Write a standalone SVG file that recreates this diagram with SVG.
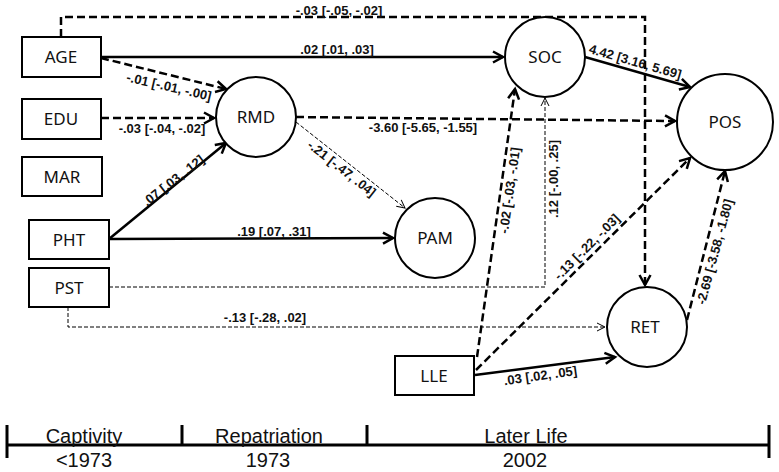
<svg xmlns="http://www.w3.org/2000/svg" width="779" height="472" viewBox="0 0 779 472">
<style>
.box{fill:#fff;stroke:#000;stroke-width:2}
.nt{font-family:"Noto Sans","DejaVu Sans",sans-serif;font-size:17px;fill:#111;text-anchor:middle}
.s{stroke:#000;stroke-width:2.5;fill:none}
.d{stroke:#000;stroke-width:2.5;fill:none;stroke-dasharray:8 4}
.t{stroke:#000;stroke-width:1;fill:none;stroke-dasharray:4 2}
.lb{font-family:"Liberation Sans",Arial,sans-serif;font-size:13px;font-weight:bold;fill:#111;text-anchor:middle}
.tl{font-family:"Liberation Sans",Arial,sans-serif;font-size:20px;fill:#111;text-anchor:middle}
.tk{stroke:#000;stroke-width:3;fill:none}
</style>
<defs>
<marker id="ah" markerUnits="userSpaceOnUse" markerWidth="16" markerHeight="16" refX="12" refY="7" orient="auto">
<path d="M2,1.5 L12,7 L2,12.5" fill="none" stroke="#000" stroke-width="2.5" stroke-dasharray="none"/>
</marker>
<marker id="at" markerUnits="userSpaceOnUse" markerWidth="12" markerHeight="12" refX="9" refY="5" orient="auto">
<path d="M1,1 L9,5 L1,9" fill="none" stroke="#000" stroke-width="1" stroke-dasharray="none"/>
</marker>
</defs>
<rect width="779" height="472" fill="#fff"/>
<g id="connectors">
<path class="d" d="M61,37 V17 H645 V285" marker-end="url(#ah)"/>
<path class="s" d="M101,57 H503" marker-end="url(#ah)"/>
<path class="d" d="M101,58 L226,89" marker-end="url(#ah)"/>
<path class="d" d="M101,118 L214,118" marker-end="url(#ah)"/>
<path class="s" d="M109,239 L226,143" marker-end="url(#ah)"/>
<path class="s" d="M109,239 L393,238" marker-end="url(#ah)"/>
<path class="t" d="M296,122 L405,208" marker-end="url(#at)"/>
<path class="d" d="M296,117 L675,121" marker-end="url(#ah)"/>
<path class="s" d="M585,57 L690,87" marker-end="url(#ah)"/>
<path class="t" d="M109,287 H545 V98" marker-end="url(#at)"/>
<path class="t" d="M68,307 V327 H605" marker-end="url(#at)"/>
<path class="d" d="M477,357 L515,89" marker-end="url(#ah)"/>
<path class="d" d="M476,370 L690,158" marker-end="url(#ah)"/>
<path class="s" d="M475,375 L615,357" marker-end="url(#ah)"/>
<path class="d" d="M687,320 L725,171" marker-end="url(#ah)"/>
<text class="lb" x="339" y="15">-.03 [-.05, -.02]</text>
<text class="lb" x="337" y="54">.02 [.01, .03]</text>
<text class="lb" transform="translate(168,91) rotate(13)">-.01 [-.01, -.00]</text>
<text class="lb" x="162" y="133">-.03 [-.04, -.02]</text>
<text class="lb" transform="translate(176,184) rotate(-38)">.07 [.03, .12]</text>
<text class="lb" x="274" y="236">.19 [.07, .31]</text>
<text class="lb" transform="translate(339,172) rotate(38)">-.21 [-.47, .04]</text>
<text class="lb" x="423" y="132">-3.60 [-5.65, -1.55]</text>
<text class="lb" transform="translate(634,66) rotate(16)">4.42 [3.16, 5.69]</text>
<text class="lb" transform="translate(558,179) rotate(-90)">.12 [-.00, .25]</text>
<text class="lb" x="265" y="322">-.13 [-.28, .02]</text>
<text class="lb" transform="translate(514,191) rotate(-82)">-.02 [-.03, -.01]</text>
<text class="lb" transform="translate(590,250) rotate(-45)">-.13 [-.22, -.03]</text>
<text class="lb" transform="translate(541,380) rotate(-8)">.03 [.02, .05]</text>
<text class="lb" transform="translate(719,253) rotate(-75)">-2.69 [-3.58, -1.80]</text>
</g>
<g id="AGE"><rect class="box" x="22" y="37" width="79" height="40"/><text class="nt" x="61" y="63">AGE</text></g>
<g id="EDU"><rect class="box" x="22" y="99" width="79" height="40"/><text class="nt" x="61" y="125">EDU</text></g>
<g id="MAR"><rect class="box" x="22" y="157" width="80" height="39"/><text class="nt" x="62" y="183">MAR</text></g>
<g id="PHT"><rect class="box" x="29" y="220" width="80" height="39"/><text class="nt" x="69" y="246">PHT</text></g>
<g id="PST"><rect class="box" x="29" y="268" width="80" height="39"/><text class="nt" x="69" y="294">PST</text></g>
<g id="LLE"><rect class="box" x="395" y="356" width="79" height="39"/><text class="nt" x="434" y="382">LLE</text></g>
<g id="RMD"><circle class="box" cx="256" cy="117" r="40"/><text class="nt" x="256" y="123">RMD</text></g>
<g id="SOC"><circle class="box" cx="545" cy="57" r="40"/><text class="nt" x="545" y="63">SOC</text></g>
<g id="POS"><circle class="box" cx="725" cy="122" r="48"/><text class="nt" x="725" y="128">POS</text></g>
<g id="PAM"><circle class="box" cx="435" cy="238" r="40"/><text class="nt" x="435" y="244">PAM</text></g>
<g id="RET"><circle class="box" cx="647" cy="327" r="40"/><text class="nt" x="645" y="333">RET</text></g>
<g id="timeline">
<path class="tk" d="M7,445 H769 M7,425 V458 M769,425 V458 M182,425 V445 M367,425 V445"/>
<text class="tl" x="84" y="443">Captivity</text>
<text class="tl" x="269" y="443">Repatriation</text>
<text class="tl" x="526" y="443">Later Life</text>
<text class="tl" x="84" y="467">&lt;1973</text>
<text class="tl" x="268" y="467">1973</text>
<text class="tl" x="525" y="467">2002</text>
</g>
</svg>
